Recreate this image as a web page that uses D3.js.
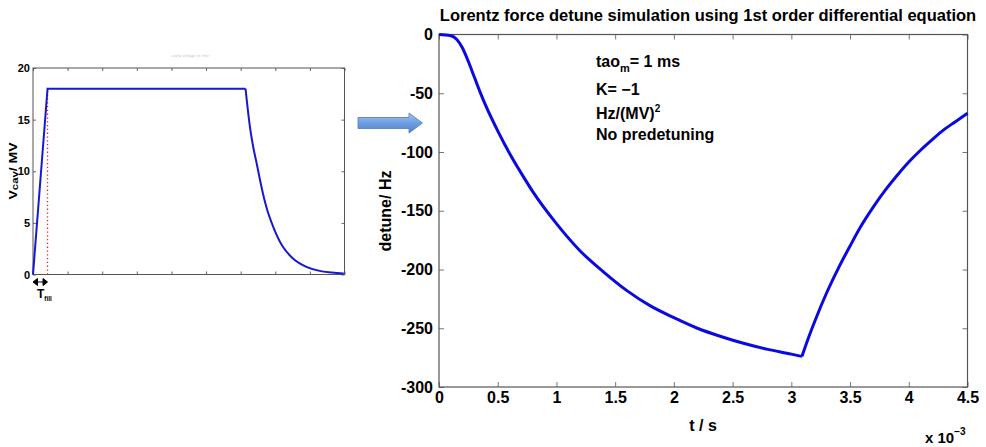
<!DOCTYPE html>
<html><head><meta charset="utf-8">
<script src="https://cdn.jsdelivr.net/npm/d3@7"></script>
<style>
body{margin:0;background:#fff}
svg{display:block}
text{font-family:"Liberation Sans",Arial,Helvetica,sans-serif;font-weight:bold;fill:#000}
</style>
</head><body>
<svg id="c" width="986" height="447"></svg>
<script>
// ---- data (t in ms, shown with "x 10^-3" multiplier) ----
const tMain   = [0, 0.1, 0.15, 0.2, 0.25, 0.3, 0.35, 0.4, 0.5, 0.6, 0.7, 0.8, 1.0, 1.2, 1.4, 1.6, 1.8, 2.0, 2.2, 2.4, 2.6, 2.8, 3.0, 3.09];
const detune  = [0, -1, -4, -11.5, -23, -36, -49, -61, -82, -101, -118, -134, -161, -184, -202, -218, -231, -241, -250, -257, -263, -268, -272, -274];
const tRise   = [3.09, 3.15, 3.2, 3.3, 3.4, 3.5, 3.6, 3.7, 3.8, 3.9, 4.0, 4.1, 4.2, 4.3, 4.4, 4.5];
const detuneRise = [-274, -257, -244, -220, -199, -180, -162, -146.5, -132.5, -120, -108.5, -98.5, -89.5, -81, -74, -67];

const tFill   = [0, 0.21, 3.07];
const vFill   = [0, 18, 18];
const tDecay  = [3.07, 3.14, 3.18, 3.23, 3.30, 3.37, 3.47, 3.61, 3.755, 3.95, 4.14, 4.32, 4.49];
const vDecay  = [18, 14.0, 12.4, 10.8, 8.5, 6.56, 4.62, 2.68, 1.55, 0.74, 0.35, 0.2, 0.1];
const tFillMark = 0.21;

const xTicks = [0, 0.5, 1, 1.5, 2, 2.5, 3, 3.5, 4, 4.5];
const yTicksMain = [0, -50, -100, -150, -200, -250, -300];
const yTicksLeft = [0, 5, 10, 15, 20];

const titleMain = "Lorentz force detune simulation using 1st order differential equation";
const fmt = d => String(d);

const svg = d3.select("#c");
const blue = "#0a0ae0";

// ================= LEFT CHART =================
const lx = d3.scaleLinear().domain([0, 4.5]).range([33, 344.5]);
const ly = d3.scaleLinear().domain([0, 20]).range([274.5, 68]);
const L = svg.append("g");

L.append("text").attr("x", 190).attr("y", 57).attr("text-anchor", "middle")
  .style("font-size", "4px").style("fill", "#c8c8c8").style("font-weight", "normal")
  .text("cavity voltage vs time");

function styleAxis(g, col) {
  g.select(".domain").remove();
  g.selectAll(".tick line").attr("stroke", col);
}
L.append("g").attr("transform", `translate(0,${ly(0)})`)
  .call(d3.axisBottom(lx).tickValues(xTicks).tickSize(-3).tickFormat(""))
  .call(g => styleAxis(g, "#666"));
L.append("g").attr("transform", `translate(0,${ly(20)})`)
  .call(d3.axisTop(lx).tickValues(xTicks).tickSize(-3).tickFormat(""))
  .call(g => styleAxis(g, "#666"));
L.append("g").attr("transform", `translate(${lx(0)},0)`)
  .call(d3.axisLeft(ly).tickValues(yTicksLeft).tickSize(-3).tickPadding(3).tickFormat(fmt))
  .call(g => { styleAxis(g, "#666"); g.selectAll("text").style("font-size", "11px").style("font-family", "'Liberation Sans Narrow','Liberation Sans',Arial,sans-serif"); });
L.append("g").attr("transform", `translate(${lx(4.5)},0)`)
  .call(d3.axisRight(ly).tickValues(yTicksLeft).tickSize(-3).tickFormat(""))
  .call(g => styleAxis(g, "#666"));
L.append("rect").attr("x", lx(0)).attr("y", ly(20)).attr("width", lx(4.5) - lx(0)).attr("height", ly(0) - ly(20))
  .attr("fill", "none").attr("stroke", "#555").attr("stroke-width", 1);

// red dotted fill-time marker
L.append("line").attr("x1", lx(tFillMark)).attr("x2", lx(tFillMark)).attr("y1", ly(0)).attr("y2", ly(18))
  .attr("stroke", "#ff1a1a").attr("stroke-width", 1.3).attr("stroke-dasharray", "1.3,2.5");

const lineL = d3.line().x(d => lx(d[0])).y(d => ly(d[1]));
L.append("path").datum(tFill.map((t, i) => [t, vFill[i]]))
  .attr("d", lineL).attr("fill", "none").attr("stroke", "#1818d0").attr("stroke-width", 2);
L.append("path").datum(tDecay.map((t, i) => [t, vDecay[i]]))
  .attr("d", lineL.curve(d3.curveMonotoneX)).attr("fill", "none").attr("stroke", "#1818d0").attr("stroke-width", 2);

// y label
L.append("text").attr("transform", `translate(17,171) rotate(-90)`).attr("text-anchor", "middle")
  .style("font-size", "11px")
  .attr("textLength", 57).attr("lengthAdjust", "spacingAndGlyphs")
  .call(t => { t.append("tspan").text("V"); t.append("tspan").style("font-size", "9px").attr("dy", 1).text("cav"); t.append("tspan").attr("dy", -1).text("/ MV"); });

// T_fill annotation
L.append("path").attr("d", `M${lx(0)},282 l4.5,-3.5 v7 z M${lx(tFillMark)},282 l-4.5,-3.5 v7 z M${lx(0)+3},282 H${lx(tFillMark)-3}`)
  .attr("fill", "#000").attr("stroke", "#000").attr("stroke-width", 1);
L.append("text").attr("x", 37).attr("y", 298).style("font-size", "12px")
  .call(t => { t.append("tspan").text("T"); t.append("tspan").attr("dy", 3).style("font-size", "6.5px").text("fill"); });

// ================= ARROW =================
const defs = svg.append("defs");
const gr = defs.append("linearGradient").attr("id", "ag").attr("x1", 0).attr("y1", 0).attr("x2", 0).attr("y2", 1);
gr.append("stop").attr("offset", 0).attr("stop-color", "#a6c4ee");
gr.append("stop").attr("offset", 0.5).attr("stop-color", "#6e9ee0");
gr.append("stop").attr("offset", 1).attr("stop-color", "#4f83cf");
svg.append("path").attr("d", "M358,117.5 H409 V113 L422.5,123 L409,133 V128.5 H358 Z")
  .attr("fill", "url(#ag)").attr("stroke", "#4a7ebb").attr("stroke-width", 0.8);

// ================= MAIN CHART =================
const x = d3.scaleLinear().domain([0, 4.5]).range([439, 967.5]);
const y = d3.scaleLinear().domain([-300, 0]).range([387, 34.5]);
const M = svg.append("g");

M.append("g").attr("transform", `translate(0,${y(-300)})`)
  .call(d3.axisBottom(x).tickValues(xTicks).tickSize(-5).tickPadding(4).tickFormat(fmt))
  .call(g => { styleAxis(g, "#777"); g.selectAll("text").style("font-size", "16px").attr("dy", "0.72em"); });
M.append("g").attr("transform", `translate(0,${y(0)})`)
  .call(d3.axisTop(x).tickValues(xTicks).tickSize(-5).tickFormat(""))
  .call(g => styleAxis(g, "#777"));
M.append("g").attr("transform", `translate(${x(0)},0)`)
  .call(d3.axisLeft(y).tickValues(yTicksMain).tickSize(-5).tickPadding(6).tickFormat(fmt))
  .call(g => { styleAxis(g, "#777"); g.selectAll("text").style("font-size", "16px"); });
M.append("g").attr("transform", `translate(${x(4.5)},0)`)
  .call(d3.axisRight(y).tickValues(yTicksMain).tickSize(-5).tickFormat(""))
  .call(g => styleAxis(g, "#777"));
M.append("rect").attr("x", x(0)).attr("y", y(0)).attr("width", x(4.5) - x(0)).attr("height", y(-300) - y(0))
  .attr("fill", "none").attr("stroke", "#555").attr("stroke-width", 1.2);

const lineM = d3.line().x(d => x(d[0])).y(d => y(d[1])).curve(d3.curveMonotoneX);
M.append("path").datum(tMain.map((t, i) => [t, detune[i]]))
  .attr("d", lineM).attr("fill", "none").attr("stroke", blue).attr("stroke-width", 3).attr("stroke-linejoin", "round");
M.append("path").datum(tRise.map((t, i) => [t, detuneRise[i]]))
  .attr("d", lineM).attr("fill", "none").attr("stroke", blue).attr("stroke-width", 3).attr("stroke-linejoin", "round");

// title
M.append("text").attr("x", 708).attr("y", 21).attr("text-anchor", "middle").style("font-size", "16.5px").text(titleMain);

// axis labels
M.append("text").attr("x", 703).attr("y", 431).attr("text-anchor", "middle").style("font-size", "16px").text("t / s");
M.append("text").attr("transform", "translate(391,211) rotate(-90)").attr("text-anchor", "middle").style("font-size", "16px").text("detune/ Hz");
M.append("text").attr("x", 925).attr("y", 443).style("font-size", "15px")
  .call(t => { t.append("tspan").text("x 10"); t.append("tspan").attr("dy", -8).style("font-size", "10px").text("−3"); });

// annotation
const A = M.append("g").style("font-size", "16px");
A.append("text").attr("x", 596).attr("y", 67)
  .call(t => { t.append("tspan").text("tao"); t.append("tspan").attr("dy", 5).style("font-size", "11px").text("m"); t.append("tspan").attr("dy", -5).text("= 1 ms"); });
A.append("text").attr("x", 596).attr("y", 95).text("K= −1");
A.append("text").attr("x", 596).attr("y", 119)
  .call(t => { t.append("tspan").text("Hz/(MV)"); t.append("tspan").attr("dy", -7).style("font-size", "10px").text("2"); });
A.append("text").attr("x", 596).attr("y", 140).text("No predetuning");
</script>
</body></html>
